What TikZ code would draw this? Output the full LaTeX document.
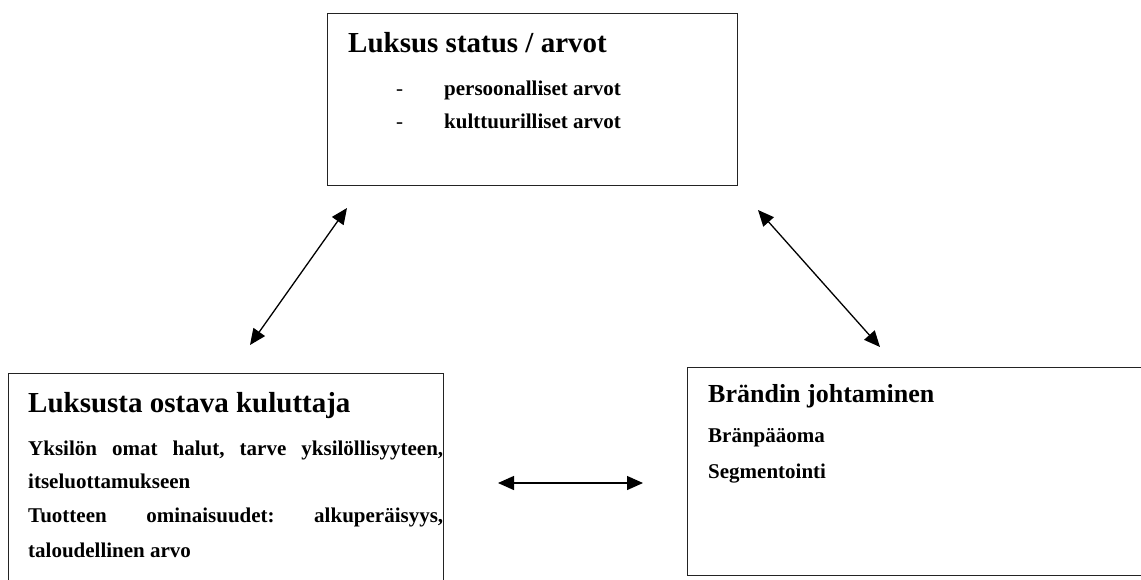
\documentclass[tikz,border=0pt]{standalone}
\usepackage{fontspec}
\setmainfont{Liberation Serif}
\usetikzlibrary{arrows.meta,positioning,calc}
\definecolor{frameblack}{RGB}{35,35,35}
\frenchspacing

\tikzset{
  panel/.style={draw=frameblack, line width=1.3pt, anchor=north west, inner sep=0pt},
  headline/.style={anchor=base west, inner sep=0pt, font=\fontsize{29}{34}\selectfont\bfseries},
  subheadline/.style={anchor=base west, inner sep=0pt, font=\fontsize{26}{31}\selectfont\bfseries},
  itemline/.style={anchor=base west, inner sep=0pt, font=\fontsize{21}{25}\selectfont\bfseries},
  itemdash/.style={anchor=base west, inner sep=0pt, font=\fontsize{21}{25}\selectfont},
  link/.style={{Triangle[length=16pt,width=14pt]}-{Triangle[length=16pt,width=14pt]}, line width=1.3pt}
}

\begin{document}
\begin{tikzpicture}[x=1pt, y=1pt]
    \useasboundingbox (0,0) rectangle (1141,-579);

    % status box on top
    \node[panel, minimum width=410pt, minimum height=172pt] (status) at (327,-13) {};
    \node[headline] (statustitle) at ($(status.north west)+(21,-39)$) {Luksus status / arvot};
    \node[itemdash] (dashone) at ($(status.north west)+(69,-82)$) {-};
    \node[itemline] (personal) at ($(status.north west)+(117,-82)$) {persoonalliset arvot};
    \node[itemdash] (dashtwo) at ($(status.north west)+(69,-115)$) {-};
    \node[itemline] (cultural) at ($(status.north west)+(117,-115)$) {kulttuurilliset arvot};

    % consumer box
    \node[panel, minimum width=435pt, minimum height=260pt] (consumer) at (8,-373) {};
    \node[headline] (consumertitle) at ($(consumer.north west)+(20,-39)$) {Luksusta ostava kuluttaja};
    \node[itemline] (wants) at ($(consumer.north west)+(20,-82)$) {\makebox[415pt][s]{Yksilön omat halut, tarve yksilöllisyyteen,}};
    \node[itemline] (confidence) at ($(consumer.north west)+(20,-115)$) {itseluottamukseen};
    \node[itemline] (features) at ($(consumer.north west)+(20,-149)$) {\makebox[415pt][s]{Tuotteen ominaisuudet: alkuperäisyys,}};
    \node[itemline] (economic) at ($(consumer.north west)+(20,-184)$) {taloudellinen arvo};

    % brand box
    \node[panel, minimum width=500pt, minimum height=208pt] (brand) at (687,-367) {};
    \node[subheadline] (brandtitle) at ($(brand.north west)+(21,-35)$) {Brändin johtaminen};
    \node[itemline] (equity) at ($(brand.north west)+(21,-75)$) {Bränpääoma};
    \node[itemline] (segment) at ($(brand.north west)+(21,-111)$) {Segmentointi};

    % arrow ends
    \coordinate (statusleft) at (347,-208);
    \coordinate (consumertop) at (250,-345);
    \coordinate (statusright) at (758,-210);
    \coordinate (brandtop) at (880,-347);
    \coordinate (consumerright) at (498,-483);
    \coordinate (brandleft) at (643,-483);

    \draw[link] (statusleft) -- (consumertop);
    \draw[link] (statusright) -- (brandtop);
    \draw[link] (consumerright) -- (brandleft);
\end{tikzpicture}
\end{document}
